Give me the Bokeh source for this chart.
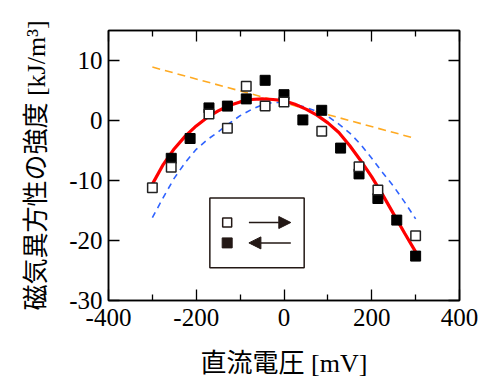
from bokeh.plotting import figure
from bokeh.models import LinearAxis, FixedTicker, BoxAnnotation, Arrow, NormalHead, Range1d
from bokeh.embed import file_html
from bokeh.resources import INLINE

# ---- data ----
volt_fwd = [-300, -257, -171, -129, -86, -43, 0, 86, 171, 214, 300]
anis_fwd = [-11.2, -7.8, 1.1, -1.3, 5.7, 2.4, 3.1, -1.8, -7.7, -11.6, -19.2]

volt_bwd = [-257, -214, -171, -129, -86, -43, 0, 43, 86, 129, 171, 214, 257, 300]
anis_bwd = [-6.3, -3.0, 2.1, 2.4, 3.6, 6.7, 4.3, 0.1, 1.7, -4.6, -8.9, -13.0, -16.6, -22.6]

fit_volt = [-300, -275, -250, -225, -200, -175, -150, -125, -100, -75, -50, -25, 0,
            25, 50, 75, 100, 125, 150, 175, 200, 225, 250, 275, 300]
fit_red = [-10.6, -7.3, -4.7, -2.6, -0.9, 0.5, 1.6, 2.5, 3.1, 3.5, 3.6, 3.5, 3.3,
           2.7, 1.9, 0.9, -0.4, -2.0, -4.2, -6.7, -9.4, -12.4, -15.6, -18.8, -21.9]
fit_blue = [-16.2, -12.8, -9.6, -7.0, -4.8, -3.2, -1.9, -0.5, 0.8, 1.8, 2.6, 3.0, 3.0,
            2.7, 2.2, 1.5, 0.7, -0.6, -2.1, -4.0, -6.3, -8.7, -11.0, -13.6, -16.4]

lin_volt = [-300, 300]
lin_orange = [8.9, -3.0]

x_ticks = [-400, -200, 0, 200, 400]
x_tick_labels = ["-400", "-200", "0", "200", "400"]
x_minor = [-300, -100, 100, 300]
y_ticks = [-30, -20, -10, 0, 10]
y_tick_labels = ["-30", "-20", "-10", "0", "10"]

# ---- figure ----
SERIF_CJK = "'Liberation Serif', 'Noto Sans CJK JP'"
p = figure(width=480, height=384, x_range=Range1d(-400, 400), y_range=Range1d(-30, 15),
           output_backend="svg", toolbar_location=None,
           min_border_left=108, min_border_right=21, min_border_top=30, min_border_bottom=84)
p.background_fill_color = "white"
p.border_fill_color = "white"
p.outline_line_color = "black"
p.outline_line_width = 1.5
p.xgrid.visible = False
p.ygrid.visible = False

def style_axis(ax, ticks, minor, labels):
    ax.ticker = FixedTicker(ticks=ticks, minor_ticks=minor)
    ax.major_tick_in = 11
    ax.major_tick_out = 0
    ax.minor_tick_in = 6
    ax.minor_tick_out = 0
    ax.major_tick_line_color = "black"
    ax.minor_tick_line_color = "black"
    ax.major_tick_line_width = 1.3
    ax.minor_tick_line_width = 1.3
    ax.axis_line_color = "black"
    ax.axis_line_width = 1.5
    ax.major_label_overrides = dict(zip(ticks, labels))
    ax.major_label_text_font = SERIF_CJK
    ax.major_label_text_font_size = "25px"
    ax.major_label_text_color = "black"

style_axis(p.xaxis[0], x_ticks, x_minor, x_tick_labels)
style_axis(p.yaxis[0], y_ticks, [], y_tick_labels)
p.xaxis[0].major_label_standoff = 8
p.yaxis[0].major_label_standoff = 6

p.xaxis[0].axis_label = "直流電圧 [mV]"
p.yaxis[0].axis_label = "磁気異方性の強度 [kJ/m³]"
for ax in (p.xaxis[0], p.yaxis[0]):
    ax.axis_label_text_font = SERIF_CJK
    ax.axis_label_text_font_size = "26px"
    ax.axis_label_text_font_style = "normal"
    ax.axis_label_text_color = "black"
p.xaxis[0].axis_label_standoff = 20
p.yaxis[0].axis_label_standoff = 15

top_ax = LinearAxis()
right_ax = LinearAxis()
style_axis(top_ax, x_ticks, x_minor, [""] * len(x_ticks))
style_axis(right_ax, y_ticks, [], [""] * len(y_ticks))
top_ax.major_label_standoff = 0
right_ax.major_label_standoff = 0
p.add_layout(top_ax, "above")
p.add_layout(right_ax, "right")

# ---- curves ----
p.line(lin_volt, lin_orange, line_color="#ffaa22", line_width=1.6, line_dash="8 5")
p.line(fit_volt, fit_blue, line_color="#2f63ff", line_width=1.6, line_dash="6 5")
p.line(fit_volt, fit_red, line_color="#ff0000", line_width=3.2)

# ---- points ----
p.scatter(volt_bwd, anis_bwd, marker="square", size=10, fill_color="black",
          line_color="black", line_width=1)
p.scatter(volt_fwd, anis_fwd, marker="square", size=9.5, fill_color="white",
          line_color="#222222", line_width=1.5)

# ---- hand-drawn legend (decoration) ----
ink = "#231815"
p.add_layout(BoxAnnotation(left=-169, right=46, top=-12.9, bottom=-24.55,
                           fill_alpha=0, line_color=ink, line_alpha=1, line_width=1.5))
p.scatter([-129.5], [-17.0], marker="square", size=9, fill_color="white",
          line_color=ink, line_width=1.5)
p.scatter([-129.5], [-20.4], marker="square", size=10, fill_color=ink,
          line_color=ink, line_width=1)
p.add_layout(Arrow(x_start=-80, y_start=-17.0, x_end=15.5, y_end=-17.0,
                   line_color=ink, line_width=1.5,
                   end=NormalHead(size=12, fill_color=ink, line_color=ink, line_width=1)))
p.add_layout(Arrow(x_start=15.5, y_start=-20.4, x_end=-80, y_end=-20.4,
                   line_color=ink, line_width=1.5,
                   end=NormalHead(size=12, fill_color=ink, line_color=ink, line_width=1)))

open("out.html", "w").write(file_html(p, INLINE))
